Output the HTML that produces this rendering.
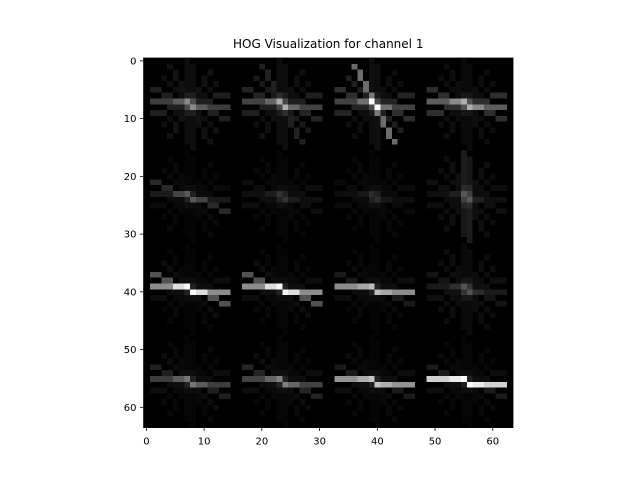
<!DOCTYPE html>
<html><head><meta charset="utf-8"><style>
html,body{margin:0;padding:0;background:#fff;}
#wrap{position:relative;width:640px;height:480px;overflow:hidden;font-family:"DejaVu Sans","Liberation Sans",sans-serif;}
#img{position:absolute;left:143.5px;top:58px;width:369.5px;height:369.5px;image-rendering:pixelated;}
svg{position:absolute;left:0;top:0;}
</style></head><body>
<div id="wrap">
<canvas id="img" width="64" height="64"></canvas>
<svg id="ax" width="640" height="480"></svg>
</div>
<script>
// HOG orientation histograms: 4x4 cells, 9 orientation bins each (brightness weights)
const cellRows = [0,1,2,3];
const cellCols = [0,1,2,3];
const hogRow0 = [
 [.05,.07,.06,.12,.24,.12,.06,.07,.05],
 [.05,.13,.10,.14,.26,.12,.05,.06,.05],
 [.06,.42,.12,.18,.26,.14,.05,.05,.05],
 [.04,.05,.05,.18,.36,.18,.05,.05,.04]];
const hogRow1 = [
 [.02,.03,.04,.16,.10,.04,.03,.03,.02],
 [.025,.03,.03,.05,.06,.05,.03,.03,.025],
 [.025,.03,.03,.04,.05,.04,.03,.03,.025],
 [.11,.06,.05,.06,.06,.05,.05,.06,.09]];
const hogRow2 = [
 [.02,.03,.05,.32,.55,.05,.03,.03,.02],
 [.02,.03,.05,.32,.55,.05,.03,.03,.02],
 [.02,.03,.04,.10,.55,.05,.03,.03,.02],
 [.04,.05,.05,.08,.10,.06,.05,.05,.04]];
const hogRow3 = [
 [.025,.03,.05,.12,.24,.05,.03,.03,.025],
 [.025,.03,.05,.14,.26,.05,.03,.03,.025],
 [.02,.03,.04,.10,.58,.05,.03,.03,.02],
 [.02,.03,.04,.10,.82,.05,.03,.03,.02]];
const xTicks = [0,10,20,30,40,50,60];
const yTicks = [0,10,20,30,40,50,60];
const titleText = "HOG Visualization for channel 1";

const hog = [hogRow0,hogRow1,hogRow2,hogRow3];
const N=64, CELL=16, RAD=7;
const img = new Float32Array(N*N);
function line(r0,c0,r1,c1){
  const rr=[],cc=[];
  let steep=0,r=r0,c=c0,dr=Math.abs(r1-r0),dc=Math.abs(c1-c0);
  let sc=(c1-c0)>0?1:-1, sr=(r1-r0)>0?1:-1;
  if(dr>dc){steep=1;[c,r]=[r,c];[dc,dr]=[dr,dc];[sc,sr]=[sr,sc];}
  let d=2*dr-dc;
  for(let i=0;i<dc;i++){
    if(steep){rr.push(c);cc.push(r);}else{rr.push(r);cc.push(c);}
    while(d>=0){r+=sr;d-=2*dc;}
    c+=sc;d+=2*dr;
  }
  rr.push(r1);cc.push(c1);
  return [rr,cc];
}
cellRows.forEach(r=>cellCols.forEach(c=>{
  const h=hog[r][c];
  const cr=r*CELL+CELL/2-0.5, ccn=c*CELL+CELL/2-0.5;
  for(let o=0;o<9;o++){
    const th=Math.PI*(o+0.5)/9;
    let dr=RAD*Math.sin(th), dc=RAD*Math.cos(th);
    if(Math.abs(dc)<1e-9) dc=0;
    const [rr,cc]=line(Math.ceil(cr+dc),Math.floor(ccn+dr),Math.floor(cr-dc),Math.ceil(ccn-dr));
    for(let i=0;i<rr.length;i++){ if(rr[i]>=0&&rr[i]<N&&cc[i]>=0&&cc[i]<N) img[rr[i]*N+cc[i]]+=h[o]; }
  }
}));
const ctx=document.getElementById('img').getContext('2d');
const id=ctx.createImageData(N,N);
for(let i=0;i<N*N;i++){const v=Math.round(Math.min(1,img[i])*255);id.data[i*4]=v;id.data[i*4+1]=v;id.data[i*4+2]=v;id.data[i*4+3]=255;}
ctx.putImageData(id,0,0);

const svg=document.getElementById('ax'), NS="http://www.w3.org/2000/svg";
const L=143.5,T=58,S=369.5,px=S/N;
const xs=v=>L+(v+0.5)*px, ys=v=>T+(v+0.5)*px;
function el(t,a,txt){const e=document.createElementNS(NS,t);for(const k in a)e.setAttribute(k,a[k]);if(txt!==undefined)e.textContent=txt;svg.appendChild(e);return e;}
const fr=el('rect',{x:L,y:T,width:S,height:S,fill:'none',stroke:'#000','stroke-width':0.8});


xTicks.forEach(v=>{
  const t=el('line',{x1:xs(v),x2:xs(v),y1:T+S,y2:T+S+3.5,stroke:'#000','stroke-width':0.8});
  
  
  const l=el('text',{x:xs(v),y:T+S+17,'text-anchor':'middle','font-size':'10px',fill:'#000'},String(v));
  
  
});
yTicks.forEach(v=>{
  const t=el('line',{x1:L-3.5,x2:L,y1:ys(v),y2:ys(v),stroke:'#000','stroke-width':0.8});
  
  
  const l=el('text',{x:L-7,y:ys(v)+3.6,'text-anchor':'end','font-size':'10px',fill:'#000'},String(v));
  
  
});
const ti=el('text',{x:L+S/2,y:48,'text-anchor':'middle','font-size':'12px',fill:'#000'},titleText);


</script>
</body></html>
